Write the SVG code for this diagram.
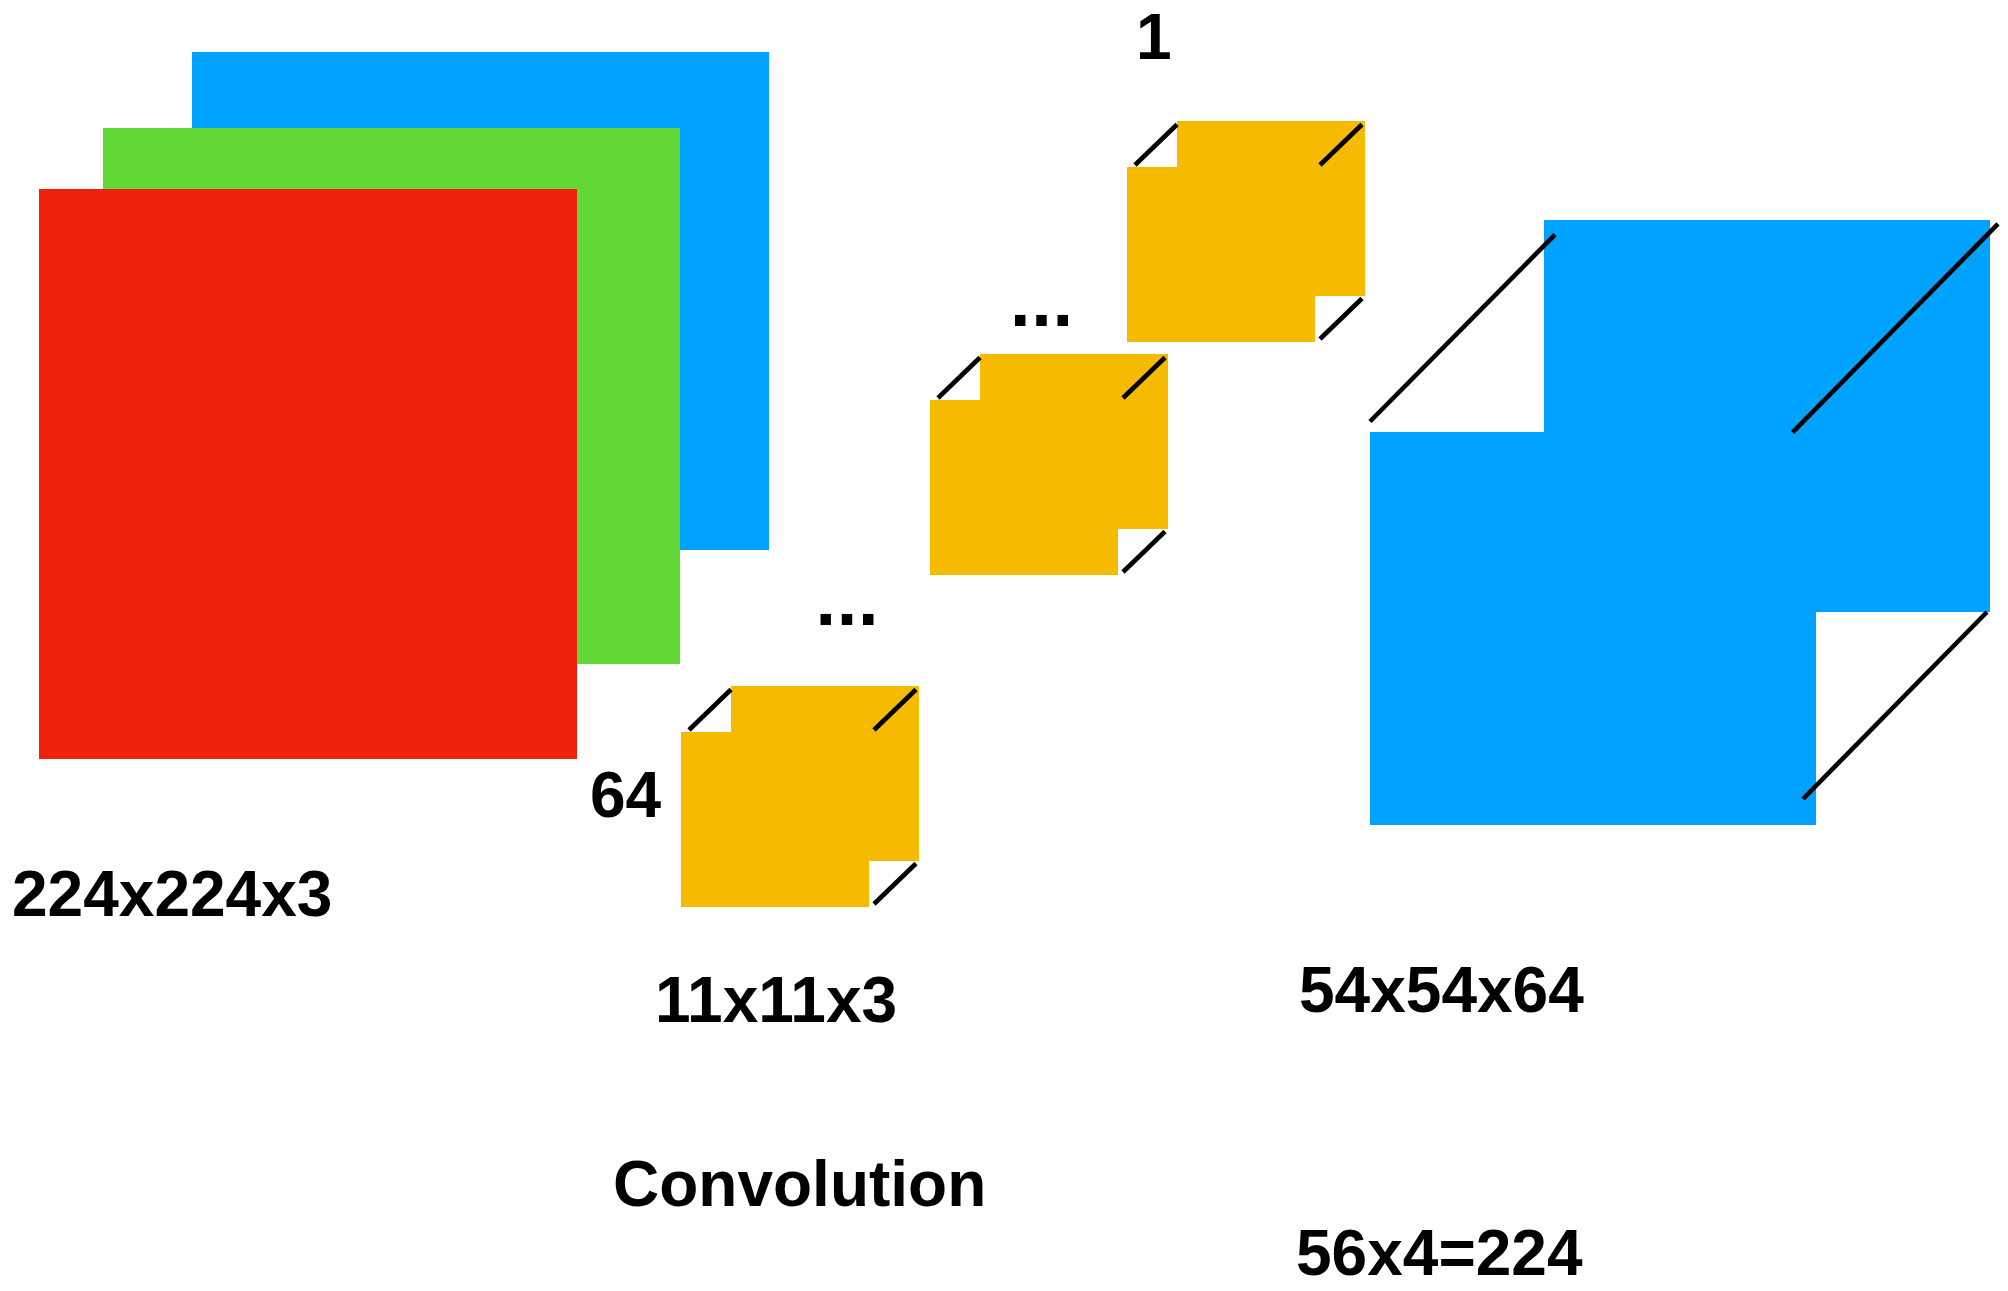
<svg xmlns="http://www.w3.org/2000/svg" width="2008" height="1291" viewBox="0 0 2008 1291">
<style>
.lbl{font-family:"Liberation Sans",Arial,Helvetica,sans-serif;font-weight:bold;font-size:64px;fill:#000}
.dots{font-family:"Liberation Sans",Arial,Helvetica,sans-serif;font-weight:bold;font-size:74px;fill:#000;letter-spacing:0.7px}
.yel{fill:#F6BA00}
.blu{fill:#00A2FF}
.edge{stroke:#000;stroke-width:4.6;fill:none}
</style>
<rect width="2008" height="1291" fill="#fff"/>
<defs>
<g id="kernel">
<rect class="yel" x="50" y="-46" width="188" height="175"/>
<rect class="yel" x="0" y="0" width="188" height="175"/>
<line class="edge" x1="8" y1="-2" x2="50" y2="-42.5"/>
<line class="edge" x1="193" y1="-2" x2="235" y2="-42.5"/>
<line class="edge" x1="193" y1="172" x2="235" y2="131.5"/>
</g>
</defs>
<g id="input">
<rect x="192" y="52" width="577" height="498" fill="#00A2FF"/>
<rect x="103" y="128" width="577" height="536" fill="#61D836"/>
<rect x="39" y="189" width="538" height="570" fill="#EE220C"/>
<text class="lbl" x="12" y="916">224x224x3</text>
</g>
<g id="kernel-64">
<use href="#kernel" x="681" y="732"/>
<text class="lbl" x="590" y="817">64</text>
</g>
<g id="kernel-mid">
<use href="#kernel" x="930" y="400"/>
</g>
<g id="kernel-1">
<use href="#kernel" x="1127" y="167"/>
<text class="lbl" x="1136" y="59">1</text>
</g>
<g id="dots">
<text class="dots" x="815.5" y="624.5">...</text>
<text class="dots" x="1010" y="325.7">...</text>
</g>
<g id="output">
<rect class="blu" x="1544" y="220" width="446" height="392"/>
<rect class="blu" x="1370" y="432" width="446" height="393"/>
<line class="edge" x1="1370" y1="421.5" x2="1555" y2="234.6"/>
<line class="edge" x1="1792.6" y1="432.4" x2="1998" y2="223.8"/>
<line class="edge" x1="1803" y1="799" x2="1987" y2="612"/>
<text class="lbl" x="1299" y="1012">54x54x64</text>
<text class="lbl" x="1296" y="1275">56x4=224</text>
</g>
<g id="labels">
<text class="lbl" x="655" y="1022">11x11x3</text>
<text class="lbl" x="613" y="1206">Convolution</text>
</g>
</svg>
